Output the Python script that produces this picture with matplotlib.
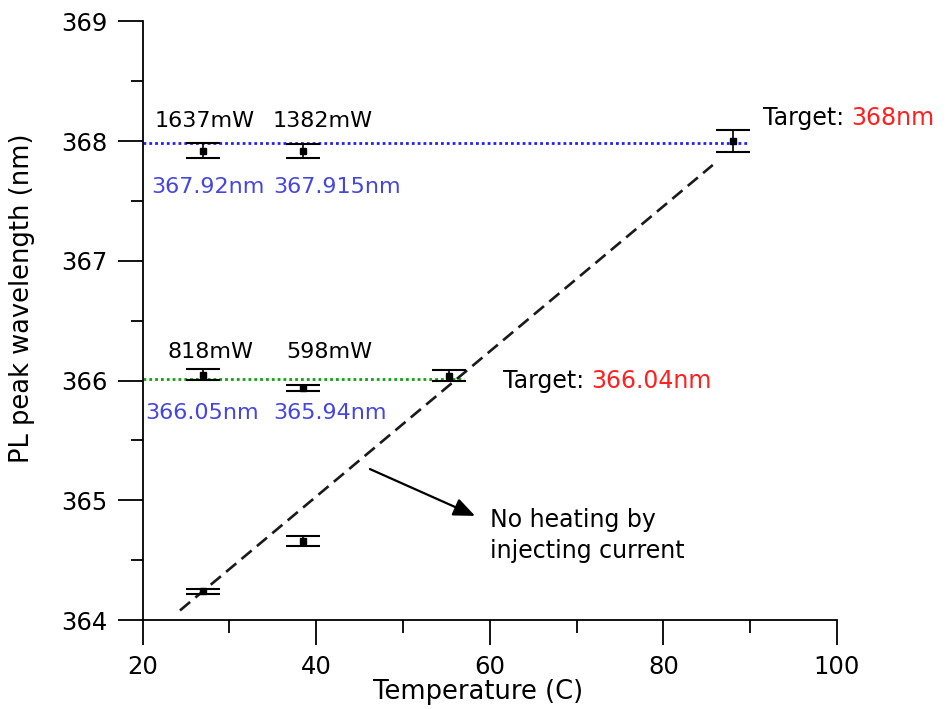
import matplotlib
matplotlib.use("Agg")
import matplotlib.pyplot as plt
from matplotlib.ticker import MultipleLocator

plt.rcParams['font.family'] = ['DejaVu Sans']

# data
temps_368 = [27, 38.5, 88]
pl_368 = [367.92, 367.915, 368.0]
err_368 = [0.06, 0.06, 0.09]

temps_366 = [27, 38.5, 55.3]
pl_366 = [366.05, 365.94, 366.04]
err_366 = [0.045, 0.025, 0.045]

temps_noheat = [27, 38.5]
pl_noheat = [364.24, 364.66]
err_noheat = [0.02, 0.045]

fit_x = [24.3, 85.7]
fit_y = [364.08, 367.8]

target_368_x = [20, 89.6]
target_368_y = [367.98, 367.98]
target_366_x = [20, 57]
target_366_y = [366.01, 366.01]

power_368 = ["1637mW", "1382mW"]
wl_368 = ["367.92nm", "367.915nm"]
power_366 = ["818mW", "598mW"]
wl_366 = ["366.05nm", "365.94nm"]

fig = plt.figure(figsize=(9.51, 7.09), dpi=100)
ax = fig.add_axes([0.150, 0.1255, 0.730, 0.8445])

ax.plot(target_368_x, target_368_y, color='#2020ff', lw=2, linestyle=(0, (1, 1.1)), zorder=2)
ax.plot(target_366_x, target_366_y, color='#10a010', lw=2, linestyle=(0, (1, 1.1)), zorder=2)
ax.plot(fit_x, fit_y, color='#1a1a1a', lw=1.9, linestyle=(0, (5, 2.6)), zorder=2)

eb_kw = dict(fmt='s', color='black', ms=4, capsize=12.5, elinewidth=1.2, capthick=1.5, zorder=3)
ax.errorbar(temps_368, pl_368, yerr=err_368, **eb_kw)
ax.errorbar(temps_366, pl_366, yerr=err_366, **eb_kw)
ax.errorbar(temps_noheat, pl_noheat, yerr=err_noheat, **eb_kw)

ax.set_xlim(20, 100)
ax.set_ylim(364, 369)
ax.xaxis.set_major_locator(MultipleLocator(20))
ax.xaxis.set_minor_locator(MultipleLocator(10))
ax.yaxis.set_major_locator(MultipleLocator(1))
ax.yaxis.set_minor_locator(MultipleLocator(0.5))
ax.spines['top'].set_visible(False)
ax.spines['right'].set_visible(False)
for s in ('left', 'bottom'):
    ax.spines[s].set_linewidth(1.3)
ax.tick_params(which='major', direction='out', length=18, width=1.3, labelsize=17.5, pad=7)
ax.tick_params(which='minor', direction='out', length=9, width=1.3)

ax.set_xlabel('Temperature (C)', fontsize=18.5)
ax.set_ylabel('PL peak wavelength (nm)', fontsize=18.5)
ax.xaxis.set_label_coords(0.483, -0.098)
ax.yaxis.set_label_coords(-0.155, 0.538)

fs = 16
fs2 = 17
blue_txt = '#4545e0'
for x, t in zip([21.4, 35.0], power_368):
    ax.text(x, 368.17, t, fontsize=fs, va='center', ha='left', color='black')
for x, t in zip([21.0, 35.0], wl_368):
    ax.text(x, 367.62, t, fontsize=fs, va='center', ha='left', color=blue_txt)
for x, t in zip([22.9, 36.5], power_366):
    ax.text(x, 366.24, t, fontsize=fs, va='center', ha='left', color='black')
for x, t in zip([20.35, 35.0], wl_366):
    ax.text(x, 365.73, t, fontsize=fs, va='center', ha='left', color=blue_txt)

t1 = ax.text(91.5, 368.19, 'Target: ', fontsize=fs2, va='center', ha='left', color='black', clip_on=False)
ax.annotate('368nm', xy=(1, 0.5), xycoords=t1, va='center', ha='left', fontsize=fs2, color='#ff2020', annotation_clip=False)
t2 = ax.text(61.5, 365.995, 'Target: ', fontsize=fs2, va='center', ha='left', color='black')
ax.annotate('366.04nm', xy=(1, 0.5), xycoords=t2, va='center', ha='left', fontsize=fs2, color='#ff2020')

ax.annotate('', xy=(58.6, 364.86), xytext=(45.9, 365.27),
            arrowprops=dict(arrowstyle='-|>,head_length=1.3,head_width=0.55', color='black', lw=1.6))
ax.text(60.0, 364.705, 'No heating by\ninjecting current', fontsize=fs2, va='center', ha='left',
        linespacing=1.35, color='black')

fig.savefig('out.png', dpi=100)
